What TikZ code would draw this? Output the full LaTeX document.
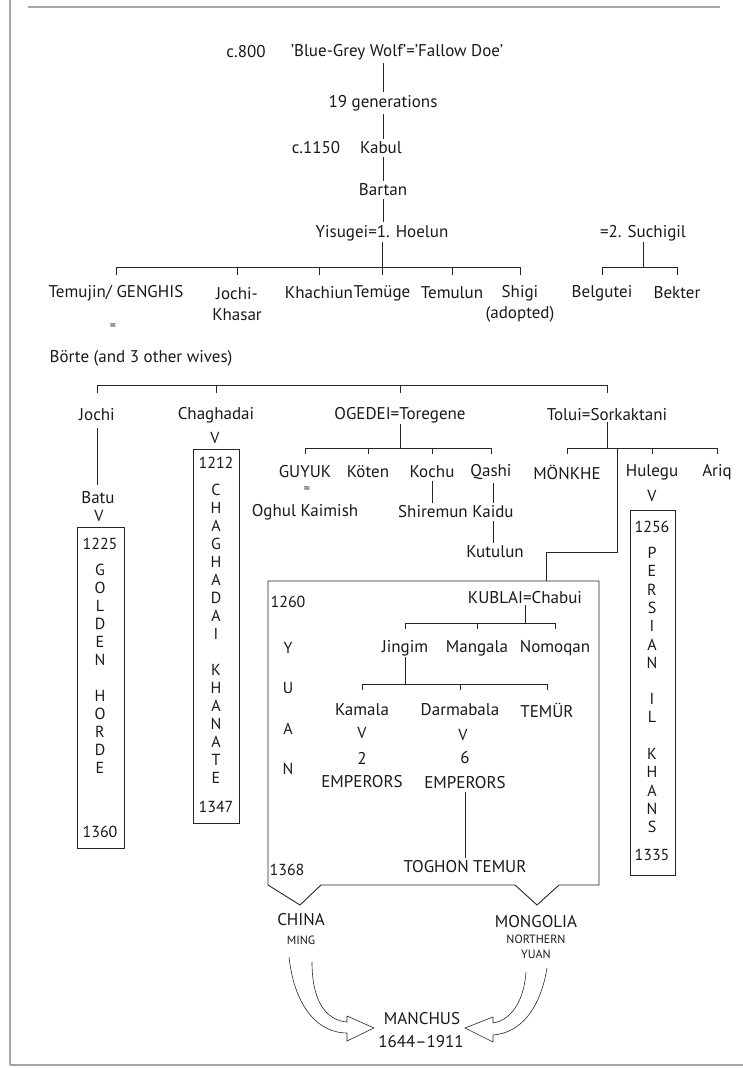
\documentclass[tikz,border=0pt]{standalone}
\usepackage{fontspec}
\setmainfont{PT Sans}
\usetikzlibrary{positioning}
\tikzset{every picture/.style={line width=0.6pt}}
\tikzset{
  person/.style={inner sep=1pt, text=black!90, font=\fontsize{17}{21}\selectfont, align=center},
  small/.style={inner sep=1pt, text=black!90, font=\fontsize{12}{14}\selectfont, align=center},
  letter/.style={inner sep=0pt, text=black!90, font=\fontsize{16}{16}\selectfont},
  descent/.style={inner sep=0pt, text=black!90, font=\fontsize{16}{16}\selectfont},
  dynasty/.style={draw=black!85, line width=0.9pt, inner sep=0pt},
  link/.style={draw=black!85, shorten <=2pt, shorten >=2pt},
  bar/.style={draw=black!85},
  frame/.style={draw=black!35, line width=2.5pt}
}

\begin{document}
\begin{tikzpicture}[x=1pt,y=-1pt]
\useasboundingbox (0,0) rectangle (743,1068);
% frame
\draw[frame] (28,7) -- (720,7);
\draw[draw=black!35, line width=1.5pt] (10,0) -- (10,1065);
\draw[frame] (10,1065) -- (743,1065);
%
% ancestors
\node[person] (c800) at (246,52) {c.800};
\node[person] (wolf) at (397,52) {'Blue-Grey Wolf'='Fallow Doe'};
\node[person] (gen) at (383,103) {19 generations};
\node[person] (c1150) at (316,148) {c.1150};
\node[person] (kabul) at (381,148) {Kabul};
\node[person] (bartan) at (383,190) {Bartan};
\node[person] (yisugei) at (382,233) {Yisugei=1. Hoelun};
\node[person] (suchigil) at (643,233) {=2. Suchigil};
\draw[link] (wolf.south -| gen) -- (gen.north);
\draw[link] (gen.south) -- (gen.south |- kabul.north);
\draw[link] (kabul.south -| bartan) -- (bartan.north);
\draw[link] (bartan.south) -- (bartan.south |- yisugei.north);
%
% sons of Yisugei
\node[person] (temujin) at (116,293) {Temujin/ GENGHIS};
\node[person] (jochikh) at (237,304) {Jochi-\\Khasar};
\node[person] (khachiun) at (319,293) {Khachiun};
\node[person] (temuge) at (382,293) {Temüge};
\node[person] (temulun) at (452,293) {Temulun};
\node[person] (shigi) at (520,304) {Shigi\\(adopted)};
\node[person] (belgutei) at (602,293) {Belgutei};
\node[person] (bekter) at (677,293) {Bekter};
\coordinate (bar1) at (0,267);
\draw[bar] (temujin |- bar1) -- (shigi |- bar1);
\foreach \p in {temujin,jochikh,khachiun,temuge,temulun,shigi}
  \draw[bar] (\p |- bar1) -- ++(0,8);
\draw[bar] (yisugei.south) -- (yisugei.south |- bar1);
\draw[bar] (belgutei |- bar1) -- (bekter |- bar1);
\foreach \p in {belgutei,bekter}
  \draw[bar] (\p |- bar1) -- ++(0,8);
\draw[bar] (suchigil.south) -- (suchigil.south |- bar1);
%
% wives of Genghis
\node[small] (eqa) at (113,327) {=};
\node[person] (borte) at (141,358) {Börte (and 3 other wives)};
%
% sons of Genghis
\node[person] (jochi) at (97,415) {Jochi};
\node[person] (chaghadai) at (216,415) {Chaghadai};
\node[person] (ogedei) at (400,415) {OGEDEI=Toregene};
\node[person] (tolui) at (607,415) {Tolui=Sorkaktani};
\coordinate (bar2) at (0,385);
\draw[bar] (jochi |- bar2) -- (tolui |- bar2);
\foreach \p in {jochi,chaghadai,ogedei,tolui}
  \draw[bar] (\p |- bar2) -- ++(0,8);
%
% Golden Horde
\node[person] (batu) at (98,498) {Batu};
\draw[link, shorten <=6pt, shorten >=6pt] (jochi.south) -- (jochi.south |- batu.north);
\node[descent] (vbatu) at (99,516) {V};
\node[dynasty, minimum width=47pt, minimum height=321pt] (golden) at (100.5,687.5) {};
\node[letter] (gold-from) at (100,544) {1225};
\foreach \l [count=\i from 0] in {G,O,L,D,E,N}
  \node[letter] (gold-a\i) at (100,570+18*\i) {\l};
\foreach \l [count=\i from 0] in {H,O,R,D,E}
  \node[letter] (gold-b\i) at (100,696+18*\i) {\l};
\node[letter] (gold-to) at (100,832) {1360};
%
% Chaghadai Khanate
\node[descent] (vchag) at (215,438) {V};
\node[dynasty, minimum width=46pt, minimum height=374pt] (chagbox) at (216,636) {};
\node[letter] (chag-from) at (216,463) {1212};
\foreach \l [count=\i from 0] in {C,H,A,G,H,A,D,A,I}
  \node[letter] (chag-a\i) at (216,490+18*\i) {\l};
\foreach \l [count=\i from 0] in {K,H,A,N,A,T,E}
  \node[letter] (chag-b\i) at (216,670+18*\i) {\l};
\node[letter] (chag-to) at (216,807) {1347};
%
% house of Ogedei
\node[person] (guyuk) at (305,472) {GUYUK};
\node[person] (koten) at (368,472) {Köten};
\node[person] (kochu) at (432,472) {Kochu};
\node[person] (qashi) at (491,472) {Qashi};
\coordinate (bar3) at (0,448);
\draw[bar] (guyuk |- bar3) -- (qashi |- bar3);
\foreach \p in {guyuk,koten,kochu,qashi}
  \draw[bar] (\p |- bar3) -- ++(0,6);
\draw[bar] (ogedei.south) -- (ogedei.south |- bar3);
\node[small] (eqb) at (307,490) {=};
\node[person] (oghul) at (305,512) {Oghul Kaimish};
\node[person] (shiremun) at (433,512) {Shiremun};
\node[person] (kaidu) at (493,512) {Kaidu};
\node[person] (kutulun) at (495,552) {Kutulun};
\draw[link] (kochu.south) -- (kochu.south |- shiremun.north);
\draw[link] (qashi.south -| kaidu) -- (kaidu.north);
\draw[link] (kaidu.south) -- (kaidu.south |- kutulun.north);
%
% house of Tolui
\node[person] (monkhe) at (567,472) {MÖNKHE};
\node[person] (hulegu) at (652,472) {Hulegu};
\node[person] (ariq) at (717,472) {Ariq};
\draw[bar] (monkhe |- bar3) -- (ariq |- bar3);
\foreach \p in {monkhe,hulegu,ariq}
  \draw[bar] (\p |- bar3) -- ++(0,6);
\draw[bar] (tolui.south) -- (tolui.south |- bar3);
%
% Persian Il-Khans
\node[descent] (vhul) at (652,496) {V};
\node[dynasty, minimum width=45pt, minimum height=365pt] (persbox) at (652.5,692.5) {};
\node[letter] (pers-from) at (652,527) {1256};
\foreach \l [count=\i from 0] in {P,E,R,S,I,A,N}
  \node[letter] (pers-a\i) at (652,553+18.3*\i) {\l};
\foreach \l [count=\i from 0] in {I,L}
  \node[letter] (pers-b\i) at (652,699+18.3*\i) {\l};
\foreach \l [count=\i from 0] in {K,H,A,N,S}
  \node[letter] (pers-c\i) at (652,754+18.3*\i) {\l};
\node[letter] (pers-to) at (652,855) {1335};
%
% Yuan
\coordinate (kub1) at (617,448);
\coordinate (kub2) at (546,581);
\draw[bar] (kub1) -- ++(0,104) -| (kub2);
\coordinate (chinatip) at (300,905);
\coordinate (mongtip) at (537,905);
\draw[dynasty] (268,581) -- (599,581) -- (599,885) -- (559,885) -- (mongtip)
  -- (515,885) -- (321,885) -- (chinatip) -- (268,885) -- cycle;
\node[letter] (yuan-from) at (288,602) {1260};
\foreach \l [count=\i] in {Y,U,A,N}
  \node[letter] (yuan\i) at (288,607+40.5*\i) {\l};
\node[letter] (yuan-to) at (287,870) {1368};
\node[person] (kublai) at (525,598) {KUBLAI=Chabui};
\node[person] (jingim) at (405,648) {Jingim};
\node[person] (mangala) at (477,648) {Mangala};
\node[person] (nomoqan) at (555,648) {Nomoqan};
\coordinate (bar4) at (0,623);
\draw[bar] (jingim |- bar4) -- (nomoqan |- bar4);
\foreach \p in {jingim,mangala,nomoqan}
  \draw[bar] (\p |- bar4) -- ++(0,6);
\draw[bar] (kublai.south) -- (kublai.south |- bar4);
\node[person] (kamala) at (362,710) {Kamala};
\node[person] (darmabala) at (460,710) {Darmabala};
\node[person] (temur) at (547,710) {TEMÜR};
\coordinate (bar5) at (0,684);
\draw[bar] (kamala |- bar5) -- (temur |- bar5);
\foreach \p in {kamala,darmabala,temur}
  \draw[bar] (\p |- bar5) -- ++(0,6);
\draw[bar] (jingim.south) -- (jingim.south |- bar5);
\node[descent] (vkam) at (362,733) {V};
\node[person] (two) at (362,758) {2};
\node[person] (emp2) at (362,782) {EMPERORS};
\node[descent] (vdar) at (463,735) {V};
\node[person] (six) at (465,758) {6};
\node[person] (emp6) at (465,783) {EMPERORS};
\node[person] (toghon) at (465,867) {TOGHON TEMUR};
\draw[link] (emp6.south) -- (emp6.south |- toghon.north);
%
% after 1368
\node[person] (china) at (301,920) {CHINA};
\node[small] (ming) at (301,940) {MING};
\node[person] (mongolia) at (536,922) {MONGOLIA};
\node[small] (north) at (536,939) {NORTHERN};
\node[small] (nyuan) at (536,954) {YUAN};
\node[person] (manchus) at (422,1019) {MANCHUS};
\node[person] (manyears) at (421,1042) {1644–1911};
%
% hollow arrows
\draw[draw=black!85] (289,957) .. controls (295,1010) and (320,1033) .. (347,1033)
  -- (347,1041) -- (374,1028) -- (347,1016) -- (347,1022)
  .. controls (325,1020) and (312,1000) .. (312,962);
\draw[draw=black!85] (547,968) .. controls (540,1010) and (520,1033) .. (493,1035)
  -- (493,1042) -- (465,1028) -- (493,1017) -- (493,1023)
  .. controls (512,1020) and (524,1000) .. (526,972);
\end{tikzpicture}
\end{document}
